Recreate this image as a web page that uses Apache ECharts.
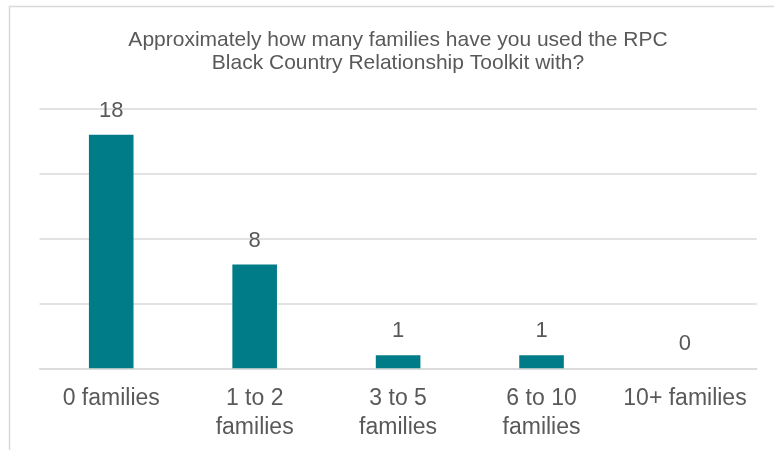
<!DOCTYPE html>
<html>
<head>
<meta charset="utf-8">
<script src="https://cdn.jsdelivr.net/npm/echarts@6/dist/echarts.min.js"></script>
<style>
  html, body { margin: 0; padding: 0; background: #ffffff; }
  #chart { width: 774px; height: 450px; }
</style>
</head>
<body>
<div id="chart"></div>
<script>
// Survey responses: how many families the toolkit was used with
const titleLines = [
  'Approximately how many families have you used the RPC',
  'Black Country Relationship Toolkit with?'
];
const categories = ['0 families', '1 to 2\nfamilies', '3 to 5\nfamilies', '6 to 10\nfamilies', '10+ families'];
const responses = [18, 8, 1, 1, 0];
const valueAxisMax = 20;
const valueAxisStep = 5;

const textColor = '#595959';
const fontFamily = '"Liberation Sans", Arial, sans-serif';

const chart = echarts.init(document.getElementById('chart'), null, { renderer: 'canvas' });

chart.setOption({
  backgroundColor: '#ffffff',
  animation: false,
  title: {
    text: titleLines.join('\n'),
    left: 398,
    top: 28,
    textAlign: 'center',
    padding: 0,
    textStyle: {
      color: textColor,
      fontFamily: fontFamily,
      fontWeight: 'normal',
      fontSize: 21,
      lineHeight: 23.5
    }
  },
  graphic: [{
    type: 'rect',
    silent: true,
    z: -1,
    shape: { x: 9.5, y: 6.5, width: 900, height: 600 },
    style: { fill: 'none', stroke: '#d9d9d9', lineWidth: 1.5 }
  }],
  grid: {
    left: 39.5,
    right: 17.3,
    top: 108.8,
    bottom: 450 - 368.3,
    containLabel: false
  },
  xAxis: {
    type: 'category',
    data: categories,
    axisLine: { show: true, lineStyle: { color: '#d9d9d9', width: 1.5 } },
    axisTick: { show: false },
    axisLabel: {
      color: textColor,
      fontFamily: fontFamily,
      fontSize: 23,
      lineHeight: 29,
      margin: 15.5,
      interval: 0
    }
  },
  yAxis: {
    type: 'value',
    min: 0,
    max: valueAxisMax,
    interval: valueAxisStep,
    axisLine: { show: false },
    axisTick: { show: false },
    axisLabel: { show: false },
    splitLine: { lineStyle: { color: '#d9d9d9', width: 1.5 } }
  },
  series: [{
    type: 'bar',
    data: responses,
    barWidth: 44.6,
    itemStyle: { color: '#007c89' },
    label: {
      show: true,
      position: 'top',
      distance: 13,
      color: textColor,
      fontFamily: fontFamily,
      fontSize: 22
    }
  }]
});
</script>
</body>
</html>
